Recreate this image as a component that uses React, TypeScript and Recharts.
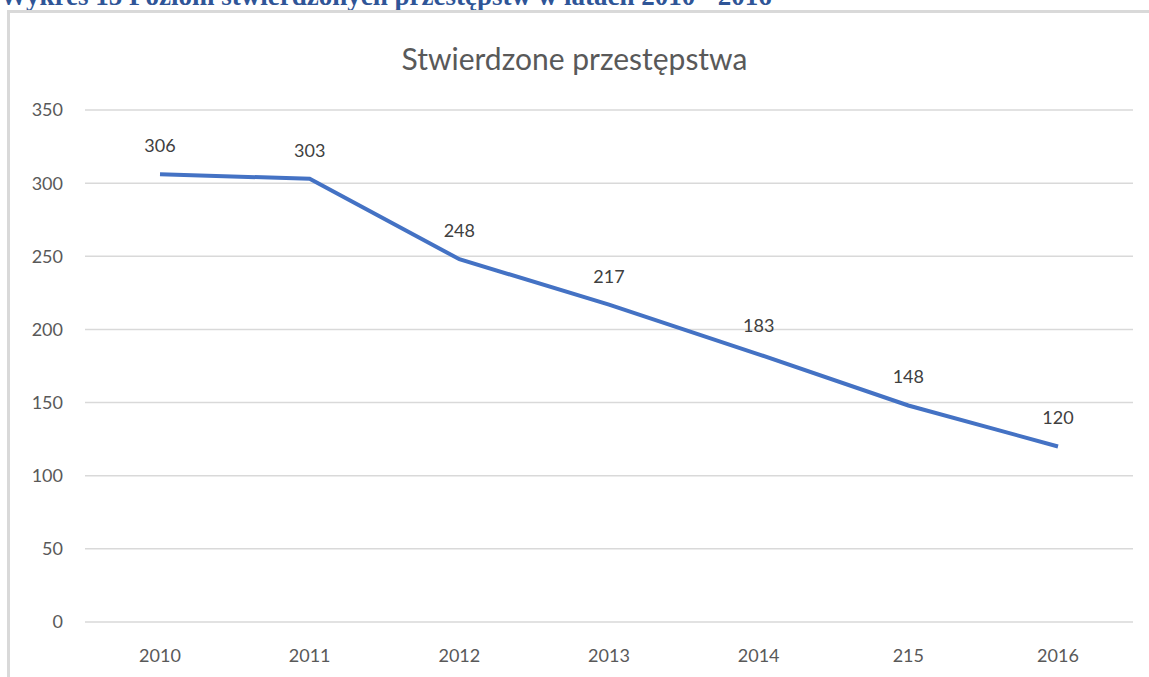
import React from "react";
import {
  LineChart,
  Line,
  XAxis,
  YAxis,
  CartesianGrid,
  LabelList,
} from "recharts";

const years = ["2010", "2011", "2012", "2013", "2014", "215", "2016"];
const crimes = [306, 303, 248, 217, 183, 148, 120];
const yTicks = [0, 50, 100, 150, 200, 250, 300, 350];

const data = years.map((year, i) => ({ year, value: crimes[i] }));

const textFont = "Lato, 'Open Sans', sans-serif";

const App = () => {
  return (
    <div
      style={{
        position: "absolute",
        left: 0,
        top: 0,
        width: 1149,
        height: 677,
        overflow: "hidden",
        background: "#fff",
      }}
    >
      <div
        style={{
          position: "absolute",
          left: 0,
          top: -17,
          fontFamily: "'Liberation Serif', serif",
          fontWeight: "bold",
          fontSize: 27,
          lineHeight: "27px",
          color: "#2F5597",
          whiteSpace: "nowrap",
        }}
      >
        Wykres 15 Poziom stwierdzonych przestępstw w latach 2010 - 2016
      </div>
      <div
        style={{
          position: "absolute",
          left: 7,
          top: 10,
          width: 1200,
          height: 700,
          borderLeft: "3px solid #d9d9d9",
          borderTop: "3px solid #d9d9d9",
        }}
      />
      <div
        style={{
          position: "absolute",
          left: 0,
          top: 40,
          width: 1149,
          textAlign: "center",
          fontFamily: textFont,
          fontSize: 30,
          color: "#595959",
        }}
      >
        Stwierdzone przestępstwa
      </div>
      <div style={{ position: "absolute", left: 0, top: 0 }}>
        <LineChart
          width={1149}
          height={677}
          data={data}
          margin={{ top: 110, right: 16, bottom: 0, left: 0 }}
        >
          <CartesianGrid
            vertical={false}
            stroke="#d9d9d9"
            strokeWidth={1.5}
          />
          <XAxis
            dataKey="year"
            height={55}
            padding={{ left: 75, right: 75 }}
            axisLine={false}
            tickLine={false}
            tickSize={0}
            tickMargin={27}
            tick={{ fill: "#595959", fontSize: 18, fontFamily: textFont }}
          />
          <YAxis
            width={85}
            domain={[0, 350]}
            ticks={yTicks}
            axisLine={false}
            tickLine={false}
            tickSize={0}
            tickMargin={22}
            tick={{ fill: "#595959", fontSize: 18, fontFamily: textFont }}
          />
          <Line
            dataKey="value"
            type="linear"
            stroke="#4472C4"
            strokeWidth={4}
            dot={false}
            isAnimationActive={false}
          >
            <LabelList
              dataKey="value"
              position="top"
              offset={22}
              fill="#404040"
              fontSize={18}
              fontFamily={textFont}
            />
          </Line>
        </LineChart>
      </div>
    </div>
  );
};

export default App;
